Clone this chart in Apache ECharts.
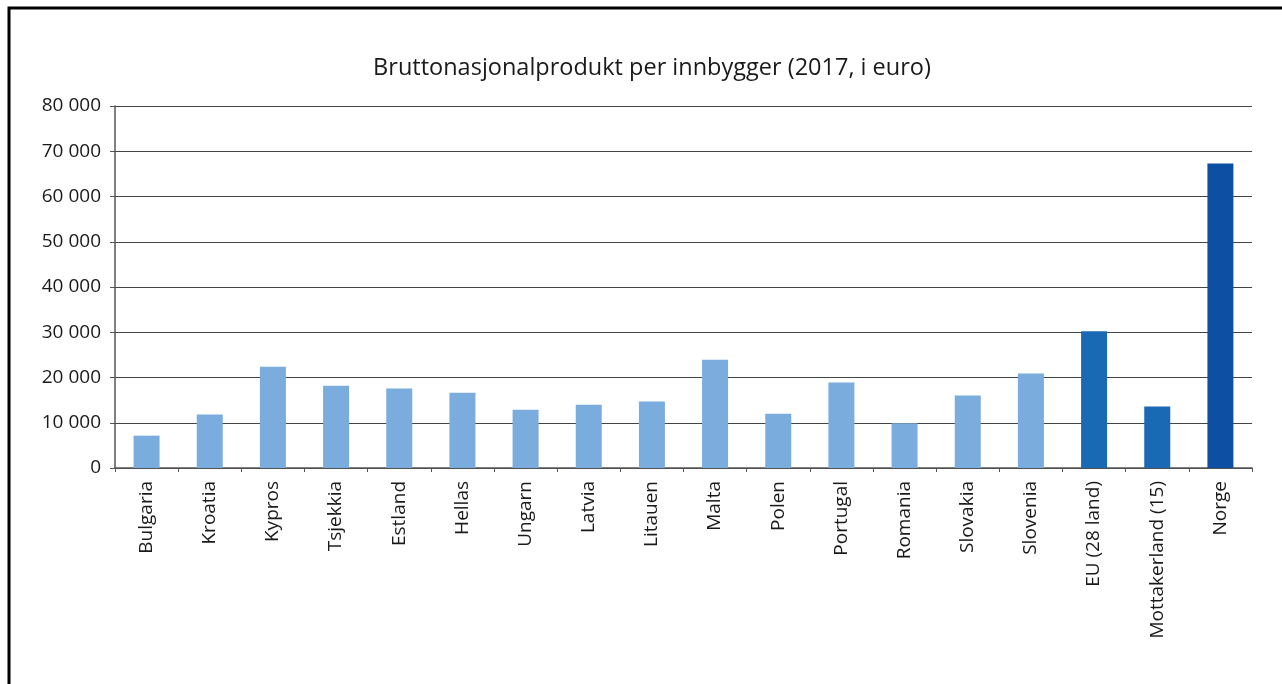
<!DOCTYPE html>
<html><head><meta charset="utf-8">
<script src="https://cdn.jsdelivr.net/npm/echarts@6/dist/echarts.min.js"></script>
<style>html,body{margin:0;padding:0;background:#fff}#c{width:1282px;height:684px}</style>
</head><body><div id="c"></div>
<script>
const categories = ["Bulgaria","Kroatia","Kypros","Tsjekkia","Estland","Hellas","Ungarn","Latvia","Litauen","Malta","Polen","Portugal","Romania","Slovakia","Slovenia","EU (28 land)","Mottakerland (15)","Norge"];
const values = [7150,11800,22400,18200,17550,16650,12900,14000,14700,23950,12000,18900,9900,16000,20900,30200,13600,67300];
const groups = ["land","land","land","land","land","land","land","land","land","land","land","land","land","land","land","snitt","snitt","norge"];
const groupColors = {land:"#7aadde", snitt:"#1a69b5", norge:"#0d4fa3"};
const titleText = "Bruttonasjonalprodukt per innbygger (2017, i euro)";
const FONT = "Open Sans";

const chart = echarts.init(document.getElementById('c'));
chart.setOption({
  animation:false,
  title:{text:titleText, left:647, top:51, textAlign:'center',
    textStyle:{fontFamily:FONT, fontSize:23.5, fontWeight:'normal', color:'#1a1a1a'}},
  graphic:[{type:'rect', shape:{x:9, y:8, width:1320, height:720},
    style:{fill:'none', stroke:'#000', lineWidth:3}, silent:true}],
  grid:{left:115, right:30, top:106, bottom:216},
  xAxis:{type:'category', data:categories,
    axisLine:{show:true, lineStyle:{color:'#555', width:1.5}},
    axisTick:{show:true, alignWithLabel:false, length:4, lineStyle:{color:'#555'}},
    axisLabel:{rotate:90, interval:0, margin:13, fontFamily:FONT, fontSize:19, color:'#1a1a1a'}},
  yAxis:{type:'value', min:0, max:80000, interval:10000,
    axisLine:{show:true, lineStyle:{color:'#555', width:1.5}},
    axisTick:{show:true, length:5, lineStyle:{color:'#555'}},
    splitLine:{show:true, lineStyle:{color:'#444', width:1.2}},
    axisLabel:{margin:14, fontFamily:FONT, fontSize:19, color:'#1a1a1a',
      formatter:v=> v===0 ? '0' : String(v).replace(/\B(?=(\d{3})+(?!\d))/g,' ')}},
  series:[{type:'bar', barWidth:26,
    data: values.map((v,i)=>({value:v, itemStyle:{color:groupColors[groups[i]]}}))}]
});
</script></body></html>
